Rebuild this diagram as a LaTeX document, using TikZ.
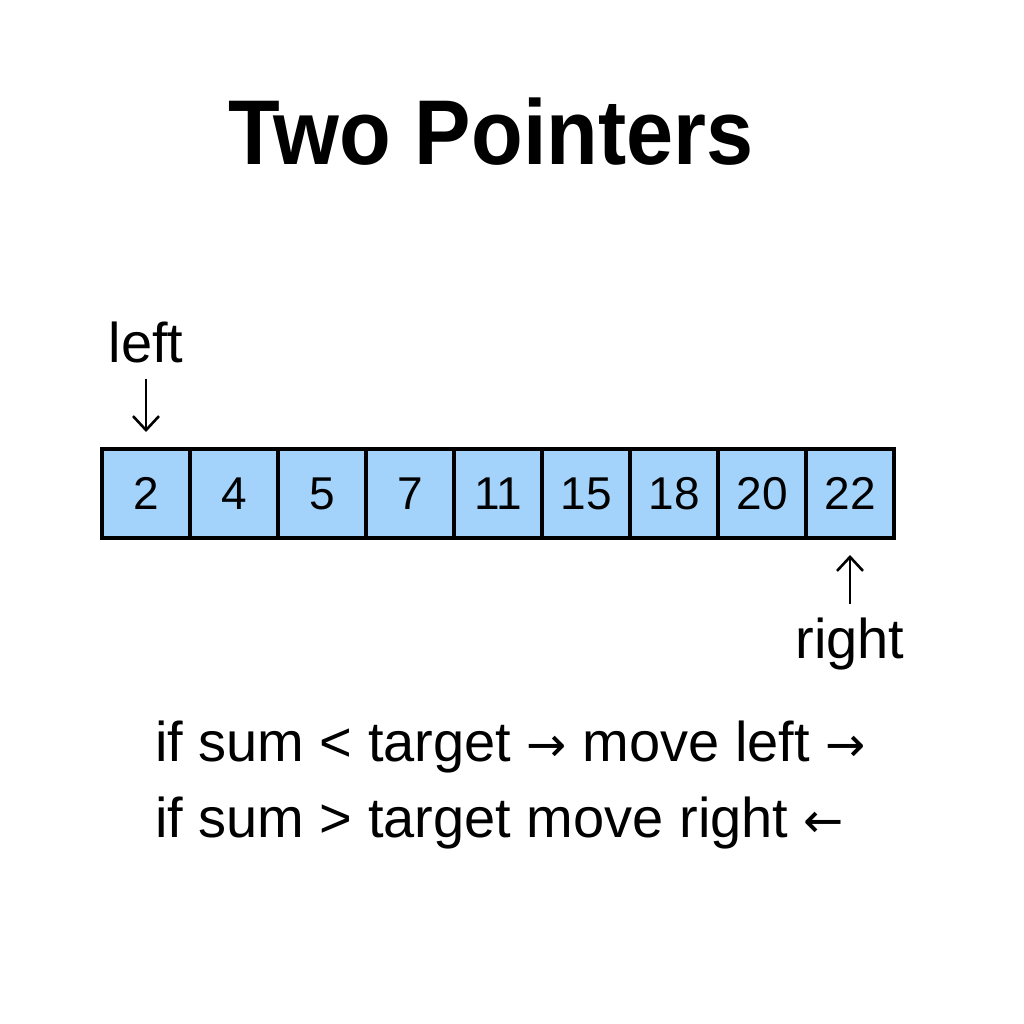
\documentclass[tikz,border=0pt]{standalone}
\usepackage{fontspec}
\setmainfont{Liberation Sans}
\newfontfamily\arrowfont{DejaVu Sans}
\usetikzlibrary{arrows.meta,positioning}
\definecolor{cellblue}{RGB}{163,211,250}
\newcommand*{\bigtxt}{\fontsize{56}{66}\selectfont}
\newcommand*{\arr}[1]{{\arrowfont\fontsize{48}{50}\selectfont #1}}

\begin{document}
\begin{tikzpicture}[x=1pt, y=-1pt, ->, >={Straight Barb[length=14pt,width=26pt]}, line width=2.6pt]
\tikzstyle{every node}=[inner sep=0pt, outer sep=0pt]
\tikzstyle{cell}=[draw=black,fill=cellblue,line width=3.5pt,minimum width=88pt,minimum height=89pt,font=\fontsize{46}{54}\selectfont]
\tikzstyle{ptr}=[font=\bigtxt]
\useasboundingbox (0,0) rectangle (1024,1024);
\node[anchor=base,font=\fontsize{92}{110}\selectfont\bfseries] (title) at (491,165) {\scalebox{0.92}[1]{Two Pointers}};
% the sorted array
\node[cell]    (c1) at (146,493.5)     {2};
\node[cell]    (c2)[right=0pt of c1]   {4};
\node[cell]    (c3)[right=0pt of c2]   {5};
\node[cell]    (c4)[right=0pt of c3]   {7};
\node[cell]    (c5)[right=0pt of c4]   {11};
\node[cell]    (c6)[right=0pt of c5]   {15};
\node[cell]    (c7)[right=0pt of c6]   {18};
\node[cell]    (c8)[right=0pt of c7]   {20};
\node[cell]    (c9)[right=0pt of c8]   {22};
% pointers
\node[ptr,anchor=base]   (L) at (146,362)    {left};
\node[ptr]               (R)[below=80pt of c9]    {right};
\path
(L)  edge[shorten <=16pt, shorten >=17pt]   (c1)
(R)  edge[shorten <=14pt, shorten >=17pt]   (c9);
% rules
\node[ptr,anchor=base west] (rule1) at (155,761) {if sum < target \arr{→} move left \arr{→}};
\node[ptr,anchor=base west] (rule2) at (155,837) {if sum > target move right \arr{←}};
\end{tikzpicture}
\end{document}
